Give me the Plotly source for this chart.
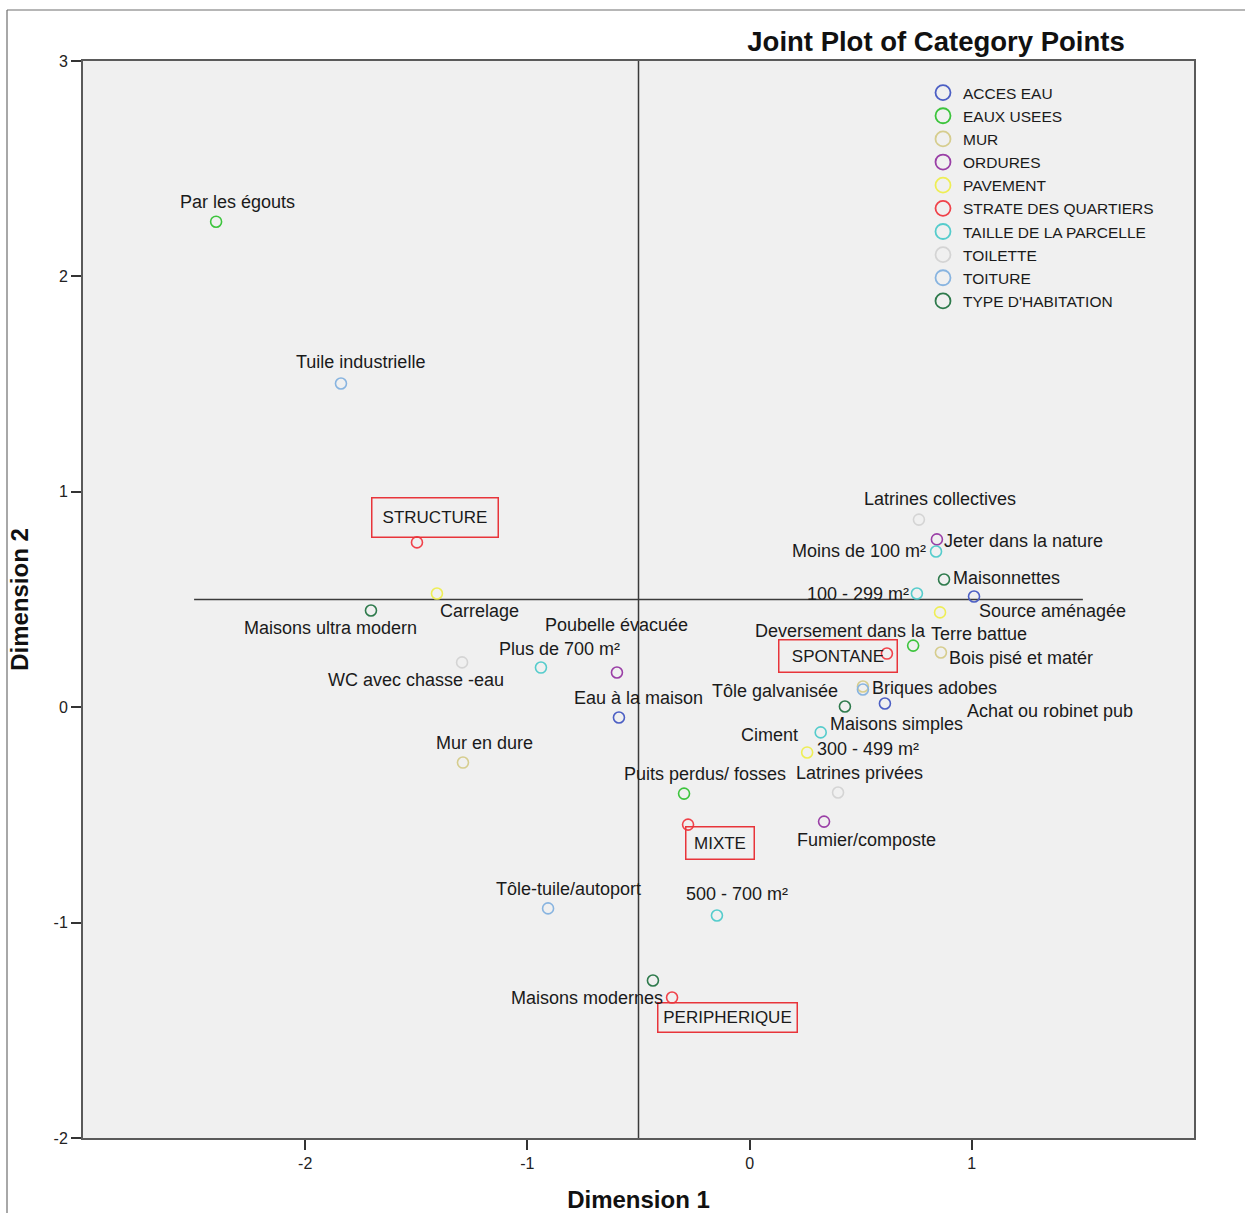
import plotly.graph_objects as go

# ---- category points (Dimension 1, Dimension 2) per variable ----
acces_eau_names = ["Eau à la maison", "Source aménagée", "Achat ou robinet pub"]
acces_eau_x = [-0.588, 1.010, 0.609]
acces_eau_y = [-0.048, 0.514, 0.017]

eaux_usees_names = ["Par les égouts", "Deversement dans la", "Puits perdus/ fosses"]
eaux_usees_x = [-2.401, 0.736, -0.295]
eaux_usees_y = [2.254, 0.286, -0.401]

mur_names = ["Mur en dure", "Bois pisé et matér", "Briques adobes"]
mur_x = [-1.290, 0.861, 0.510]
mur_y = [-0.257, 0.254, 0.096]

ordures_names = ["Poubelle évacuée", "Jeter dans la nature", "Fumier/composte"]
ordures_x = [-0.597, 0.843, 0.335]
ordures_y = [0.161, 0.779, -0.531]

pavement_names = ["Carrelage", "Terre battue", "Ciment"]
pavement_x = [-1.407, 0.857, 0.259]
pavement_y = [0.528, 0.440, -0.210]

strate_names = ["STRUCTURE", "SPONTANE", "MIXTE", "PERIPHERIQUE"]
strate_x = [-1.497, 0.618, -0.277, -0.349]
strate_y = [0.765, 0.249, -0.545, -1.348]

taille_names = ["Moins de 100 m²", "100 - 299 m²", "Plus de 700 m²", "300 - 499 m²", "500 - 700 m²"]
taille_x = [0.839, 0.753, -0.939, 0.320, -0.147]
taille_y = [0.723, 0.528, 0.184, -0.117, -0.967]

toilette_names = ["Latrines collectives", "WC avec chasse -eau", "Latrines privées"]
toilette_x = [0.762, -1.294, 0.398]
toilette_y = [0.871, 0.208, -0.396]

toiture_names = ["Tuile industrielle", "Tôle galvanisée", "Tôle-tuile/autoport"]
toiture_x = [-1.839, 0.510, -0.907]
toiture_y = [1.503, 0.082, -0.934]

habitation_names = ["Maisons ultra modern", "Maisonnettes", "Maisons simples", "Maisons modernes"]
habitation_x = [-1.704, 0.875, 0.429, -0.435]
habitation_y = [0.449, 0.593, 0.003, -1.269]

# reference lines of the joint plot
ref_vline_x = -0.5
ref_hline_y = 0.5
ref_hline_span = [-2.5, 1.5]

x_range = [-3, 2]
y_range = [-2, 3]
x_ticks = [-2, -1, 0, 1]
y_ticks = [-2, -1, 0, 1, 2, 3]

groups = [
    ("ACCES EAU", acces_eau_names, acces_eau_x, acces_eau_y, "#4c5fc4"),
    ("EAUX USEES", eaux_usees_names, eaux_usees_x, eaux_usees_y, "#3cc43c"),
    ("MUR", mur_names, mur_x, mur_y, "#d6cd8e"),
    ("ORDURES", ordures_names, ordures_x, ordures_y, "#9a3fa6"),
    ("PAVEMENT", pavement_names, pavement_x, pavement_y, "#eeee55"),
    ("STRATE DES QUARTIERS", strate_names, strate_x, strate_y, "#f0424a"),
    ("TAILLE DE LA PARCELLE", taille_names, taille_x, taille_y, "#55cccc"),
    ("TOILETTE", toilette_names, toilette_x, toilette_y, "#d4d4d4"),
    ("TOITURE", toiture_names, toiture_x, toiture_y, "#88b4e0"),
    ("TYPE D'HABITATION", habitation_names, habitation_x, habitation_y, "#2e7a4c"),
]

# label placement: anchor, pixel offset (dx right, dy down) from the point
label_place = {
    "Par les égouts": ("center", 21, -20),
    "Tuile industrielle": ("center", 20, -21),
    "Latrines collectives": ("center", 21, -21),
    "Jeter dans la nature": ("left", 5, 2),
    "Moins de 100 m²": ("right", -8, 0),
    "Maisonnettes": ("left", 7, -1),
    "100 - 299 m²": ("right", -6, 1),
    "Source aménagée": ("left", 3, 15),
    "Deversement dans la": ("right", 15, -15),
    "Terre battue": ("left", -11, 22),
    "Bois pisé et matér": ("left", 6, 6),
    "Tôle galvanisée": ("right", -23, 1),
    "Briques adobes": ("left", 7, 1),
    "Achat ou robinet pub": ("left", 80, 7),
    "Maisons simples": ("left", -17, 17),
    "Ciment": ("right", -7, -17),
    "300 - 499 m²": ("left", -6, 17),
    "Latrines privées": ("center", 21, -20),
    "Puits perdus/ fosses": ("center", 21, -20),
    "Fumier/composte": ("center", 42, 18),
    "Tôle-tuile/autoport": ("center", 20, -19),
    "500 - 700 m²": ("center", 20, -21),
    "Maisons modernes": ("right", 12, 17),
    "Carrelage": ("left", 1, 18),
    "Maisons ultra modern": ("center", -40, 18),
    "WC avec chasse -eau": ("center", -46, 18),
    "Mur en dure": ("center", 22, -20),
    "Poubelle évacuée": ("center", 0, -48),
    "Plus de 700 m²": ("center", 19, -19),
    "Eau à la maison": ("center", 20, -20),
}
# boxed strata labels: box centre offset (dx, dy) and box size (w, h)
boxed_place = {
    "STRUCTURE": (18.5, -24.5, 125, 38),
    "SPONTANE": (-49, 2, 117, 31),
    "MIXTE": (32, 18, 67, 31),
    "PERIPHERIQUE": (55.5, 19.5, 138, 28),
}

FONT = "Arial, Liberation Sans, sans-serif"
W, H = 1245, 1213
ML, MR, MT, MB = 83, 51, 61, 75
PW, PH = W - ML - MR, H - MT - MB

fig = go.Figure()

# reference lines
fig.add_trace(go.Scatter(x=[ref_vline_x, ref_vline_x], y=y_range, mode="lines",
                         line=dict(color="#3a3a3a", width=1.5), hoverinfo="skip", showlegend=False))
fig.add_trace(go.Scatter(x=ref_hline_span, y=[ref_hline_y, ref_hline_y], mode="lines",
                         line=dict(color="#3a3a3a", width=1.5), hoverinfo="skip", showlegend=False))

annotations = []
for gname, names, xs, ys, color in groups:
    fig.add_trace(go.Scatter(
        x=xs, y=ys, mode="markers", name=gname, text=names, showlegend=False,
        marker=dict(symbol="circle-open", size=11, color=color, line=dict(width=1.6, color=color)),
    ))
    # legend swatch with a larger symbol
    fig.add_trace(go.Scatter(
        x=[None], y=[None], mode="markers", name=gname, showlegend=True,
        marker=dict(symbol="circle-open", size=15, color=color, line=dict(width=1.8, color=color)),
    ))
    for n, xv, yv in zip(names, xs, ys):
        if n in boxed_place:
            dx, dy, bw, bh = boxed_place[n]
            annotations.append(dict(
                x=xv, y=yv, xref="x", yref="y", text=n, showarrow=False,
                xanchor="center", yanchor="middle", xshift=dx, yshift=-dy,
                width=bw, height=bh, align="center", valign="middle",
                bordercolor="#e8343a", borderwidth=1.5, borderpad=0,
                font=dict(family=FONT, size=17, color="#1a1a1a"),
            ))
        else:
            anc, dx, dy = label_place[n]
            annotations.append(dict(
                x=xv, y=yv, xref="x", yref="y", text=n, showarrow=False,
                xanchor=anc, yanchor="middle", xshift=dx, yshift=-dy,
                font=dict(family=FONT, size=18, color="#1a1a1a"),
            ))

# outer frame around the whole chart (top and left edges visible)
def px_x(p):
    return (p - ML) / PW

def px_y(p):
    return (H - MB - p) / PH

shapes = [
    dict(type="line", xref="paper", yref="paper", x0=px_x(7), x1=px_x(W + 20),
         y0=px_y(10), y1=px_y(10), line=dict(color="#6e6e6e", width=1.2)),
    dict(type="line", xref="paper", yref="paper", x0=px_x(7), x1=px_x(7),
         y0=px_y(10), y1=px_y(H + 20), line=dict(color="#6e6e6e", width=1.2)),
]

fig.update_layout(
    width=W, height=H,
    margin=dict(l=ML, r=MR, t=MT, b=MB),
    paper_bgcolor="white", plot_bgcolor="#f0f0f0",
    font=dict(family=FONT, size=16, color="#1a1a1a"),
    title=dict(text="<b>Joint Plot of Category Points</b>", x=px_x(936), xref="paper", xanchor="center",
               y=1 - 41 / H, yref="container", yanchor="middle",
               font=dict(family=FONT, size=27.5, color="#111")),
    legend=dict(x=px_x(923), y=px_y(76), xanchor="left", yanchor="top",
                bgcolor="rgba(0,0,0,0)", borderwidth=0,
                font=dict(family=FONT, size=15.5, color="#1a1a1a"),
                itemclick=False, itemdoubleclick=False, tracegroupgap=0),
    annotations=annotations,
    shapes=shapes,
    showlegend=True,
)
fig.update_xaxes(
    range=x_range, tickvals=x_ticks, ticktext=[str(v) for v in x_ticks],
    showgrid=False, zeroline=False, showline=True, mirror=True, automargin=False,
    linecolor="#5a5a5a", linewidth=2, ticks="outside", ticklen=10, tickwidth=1.5, tickcolor="#333",
    tickfont=dict(family=FONT, size=16, color="#222"),
    title=dict(text="<b>Dimension 1</b>", font=dict(family=FONT, size=24, color="#111"), standoff=20),
)
fig.update_yaxes(
    range=y_range, tickvals=y_ticks, ticktext=[str(v) for v in y_ticks],
    showgrid=False, zeroline=False, showline=True, mirror=True, automargin=False,
    linecolor="#5a5a5a", linewidth=2, ticks="outside", ticklen=10, tickwidth=1.5, tickcolor="#333",
    tickfont=dict(family=FONT, size=16, color="#222"),
    title=dict(text="<b>Dimension 2</b>", font=dict(family=FONT, size=24, color="#111"), standoff=18),
)

fig.write_html("out.html")
